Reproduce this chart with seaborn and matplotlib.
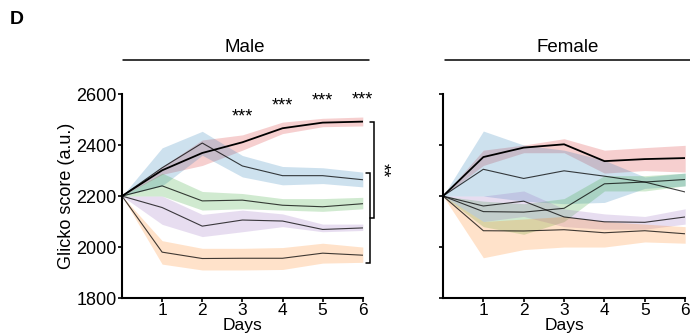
import numpy as np
import pandas as pd
import matplotlib
matplotlib.use("Agg")
import matplotlib.pyplot as plt
import seaborn as sns

sns.set_style("white")
plt.rcParams['font.family'] = ['Liberation Sans', 'DejaVu Sans']
plt.rcParams['text.color'] = 'black'
plt.rcParams['axes.labelcolor'] = 'black'
plt.rcParams['xtick.color'] = 'black'
plt.rcParams['ytick.color'] = 'black'

days = [0, 1, 2, 3, 4, 5, 6]
groups = ["red", "blue", "green", "purple", "orange"]
colors = {"red": "#d62728", "blue": "#1f77b4", "green": "#2ca02c",
          "purple": "#9467bd", "orange": "#ff7f0e"}

# Male: mean, lower, upper
male_red = [2200, 2301, 2369, 2411, 2466, 2488, 2492]
male_red_lo = [2200, 2285, 2320, 2380, 2445, 2472, 2475]
male_red_hi = [2200, 2315, 2420, 2440, 2490, 2505, 2510]
male_blue = [2200, 2311, 2408, 2318, 2280, 2280, 2264]
male_blue_lo = [2200, 2240, 2360, 2275, 2244, 2249, 2236]
male_blue_hi = [2200, 2389, 2454, 2359, 2316, 2311, 2294]
male_green = [2200, 2240, 2181, 2184, 2164, 2158, 2170]
male_green_lo = [2200, 2200, 2145, 2150, 2145, 2140, 2150]
male_green_hi = [2200, 2290, 2218, 2210, 2190, 2190, 2195]
male_purple = [2200, 2155, 2082, 2106, 2102, 2069, 2075]
male_purple_lo = [2200, 2089, 2041, 2060, 2080, 2060, 2065]
male_purple_hi = [2200, 2200, 2128, 2145, 2130, 2090, 2090]
male_orange = [2200, 1980, 1955, 1956, 1956, 1976, 1968]
male_orange_lo = [2200, 1933, 1910, 1910, 1912, 1937, 1940]
male_orange_hi = [2200, 2025, 1995, 1995, 1998, 2015, 2000]

# Female
fem_red = [2200, 2353, 2390, 2403, 2337, 2345, 2349]
fem_red_lo = [2200, 2320, 2370, 2370, 2290, 2300, 2294]
fem_red_hi = [2200, 2380, 2400, 2425, 2380, 2390, 2399]
fem_blue = [2200, 2305, 2269, 2299, 2278, 2255, 2216]
fem_blue_lo = [2200, 2200, 2180, 2170, 2175, 2230, 2240]
fem_blue_hi = [2200, 2455, 2400, 2380, 2340, 2275, 2290]
fem_green = [2200, 2139, 2137, 2152, 2248, 2255, 2265]
fem_green_lo = [2200, 2080, 2050, 2100, 2220, 2220, 2240]
fem_green_hi = [2200, 2180, 2170, 2190, 2280, 2280, 2290]
fem_purple = [2200, 2161, 2180, 2118, 2099, 2097, 2118]
fem_purple_lo = [2200, 2100, 2120, 2080, 2070, 2070, 2090]
fem_purple_hi = [2200, 2200, 2220, 2150, 2130, 2120, 2150]
fem_orange = [2200, 2064, 2063, 2068, 2056, 2064, 2052]
fem_orange_lo = [2200, 1958, 1990, 2000, 2000, 2020, 2015]
fem_orange_hi = [2200, 2100, 2110, 2120, 2100, 2090, 2080]

star_days = [3, 4, 5, 6]
star_vals = [2511, 2555, 2574, 2576]

male = {"red": (male_red, male_red_lo, male_red_hi),
        "blue": (male_blue, male_blue_lo, male_blue_hi),
        "green": (male_green, male_green_lo, male_green_hi),
        "purple": (male_purple, male_purple_lo, male_purple_hi),
        "orange": (male_orange, male_orange_lo, male_orange_hi)}
female = {"red": (fem_red, fem_red_lo, fem_red_hi),
          "blue": (fem_blue, fem_blue_lo, fem_blue_hi),
          "green": (fem_green, fem_green_lo, fem_green_hi),
          "purple": (fem_purple, fem_purple_lo, fem_purple_hi),
          "orange": (fem_orange, fem_orange_lo, fem_orange_hi)}

fig = plt.figure(figsize=(6.9, 3.36), dpi=100)
axL = fig.add_axes([0.1768, 0.113, 0.349, 0.607])
axR = fig.add_axes([0.642, 0.113, 0.351, 0.607])

def draw(ax, data):
    rows = []
    for g in groups:
        mean, lo, hi = data[g]
        ax.fill_between(days, lo, hi, color=colors[g], alpha=0.22, linewidth=0)
        for d, v in zip(days, mean):
            rows.append({"day": d, "score": v, "group": g})
    df = pd.DataFrame(rows)
    for g in groups:
        sub = df[df.group == g]
        sns.lineplot(data=sub, x="day", y="score", ax=ax, color="black",
                     linewidth=1.3 if g == "red" else 0.8,
                     alpha=1.0 if g == "red" else 0.75, legend=False)
    ax.set_xlim(0, 6)
    ax.set_ylim(1800, 2600)
    ax.set_xticks([1, 2, 3, 4, 5, 6])
    ax.set_yticks([1800, 2000, 2200, 2400, 2600])
    for s in ["top", "right"]:
        ax.spines[s].set_visible(False)
    for s in ["left", "bottom"]:
        ax.spines[s].set_linewidth(1.5)
        ax.spines[s].set_color("black")
    ax.tick_params(axis="both", which="both", direction="out", length=3,
                   width=1.2, labelsize=13, pad=1, left=True, bottom=True)
    ax.tick_params(axis="x", labelsize=12.5, pad=0.5)
    ax.set_xlabel("Days", fontsize=12.5, labelpad=0)

draw(axL, male)
draw(axR, female)
axL.set_ylabel("Glicko score (a.u.)", fontsize=13, labelpad=1)
axR.set_ylabel("")
axR.set_yticklabels([])

for d, v in zip(star_days, star_vals):
    axL.text(d, v, "***", ha="center", va="center", fontsize=13)

# brackets
def bracket(ax, x, xt, y0, y1):
    ax.plot([xt, x, x, xt], [y0, y0, y1, y1], color="black", lw=1.1,
            clip_on=False, solid_joinstyle="miter")
bracket(axL, 6.28, 6.19, 2489, 2112)
bracket(axL, 6.19, 6.09, 2289, 1937)
axL.text(6.47, 2301, "**", rotation=270, ha="center", va="center", fontsize=13)

# titles with lines
fig.text(245 / 690, 1 - 47 / 336, "Male", ha="center", va="center", fontsize=13.5)
fig.add_artist(plt.Line2D([123 / 690, 369 / 690], [1 - 60 / 336, 1 - 60 / 336],
                          color="black", lw=1.1))
fig.text(568 / 690, 1 - 47 / 336, "Female", ha="center", va="center", fontsize=13.5)
fig.add_artist(plt.Line2D([445 / 690, 690 / 690], [1 - 60 / 336, 1 - 60 / 336],
                          color="black", lw=1.1))
fig.text(10 / 690, 1 - 20 / 336, "D", ha="left", va="center", fontsize=14,
         fontweight="bold")

fig.savefig("out.png", dpi=100)
